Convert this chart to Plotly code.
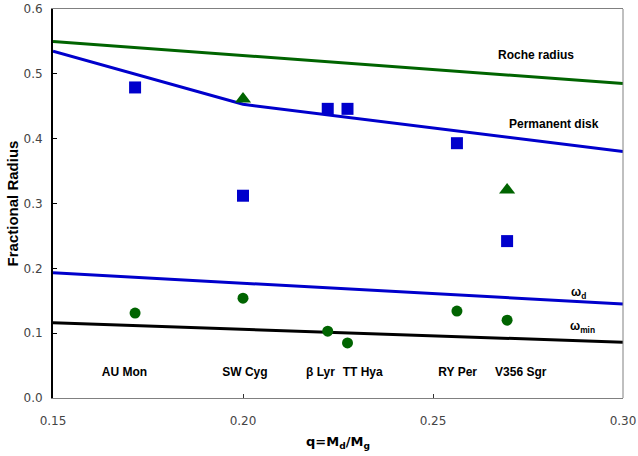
import plotly.graph_objects as go

# ---- data ----
roche_q = [0.15, 0.30]
roche_r = [0.550, 0.485]

disk_q = [0.15, 0.20, 0.30]
disk_r = [0.535, 0.453, 0.380]

omega_d_q = [0.15, 0.30]
omega_d_r = [0.193, 0.145]

omega_min_q = [0.15, 0.30]
omega_min_r = [0.116, 0.086]

stars = ["AU Mon", "SW Cyg", "β Lyr", "TT Hya", "RY Per", "V356 Sgr"]
star_q = [0.1716, 0.200, 0.2223, 0.2275, 0.2563, 0.2695]

square_r = [0.479, 0.312, 0.446, 0.446, 0.393, 0.242]
circle_r = [0.131, 0.154, 0.103, 0.085, 0.134, 0.120]

tri_q = [0.200, 0.2695]
tri_r = [0.461, 0.321]

# star-name label anchors (q position of each name, and its y level)
label_q = [0.1688, 0.2005, 0.2204, 0.2315, 0.2565, 0.2731]
label_y = 0.039

GREEN = "#006400"
BLUE = "#0000CC"

fig = go.Figure()

fig.add_trace(go.Scatter(x=roche_q, y=roche_r, mode="lines",
                         line=dict(color=GREEN, width=3), showlegend=False))
fig.add_trace(go.Scatter(x=disk_q, y=disk_r, mode="lines",
                         line=dict(color=BLUE, width=3), showlegend=False))
fig.add_trace(go.Scatter(x=omega_d_q, y=omega_d_r, mode="lines",
                         line=dict(color=BLUE, width=3), showlegend=False))
fig.add_trace(go.Scatter(x=omega_min_q, y=omega_min_r, mode="lines",
                         line=dict(color="black", width=3), showlegend=False))

fig.add_trace(go.Scatter(x=star_q, y=square_r, mode="markers",
                         marker=dict(symbol="square", size=12, color=BLUE),
                         showlegend=False))
fig.add_trace(go.Scatter(x=star_q, y=circle_r, mode="markers",
                         marker=dict(symbol="circle", size=11, color=GREEN),
                         showlegend=False))
fig.add_trace(go.Scatter(x=tri_q, y=tri_r, mode="markers",
                         marker=dict(symbol="triangle-up", size=14, color=GREEN),
                         showlegend=False))

fig.add_trace(go.Scatter(x=label_q, y=[label_y] * len(stars), mode="text",
                         text=stars,
                         textfont=dict(family="Liberation Sans, Arial", size=12,
                                       color="black", weight="bold"),
                         showlegend=False))

def px2q(px):
    return 0.15 + (px - 53) / 3800.0

def py2r(py):
    return (398 - py) / 648.0

ann_font = dict(family="Liberation Sans, Arial", size=12, color="black", weight="bold")
annotations = [
    dict(x=px2q(536), y=py2r(55), text="Roche radius", xanchor="center"),
    dict(x=px2q(554), y=py2r(124), text="Permanent disk", xanchor="center"),
    dict(x=px2q(569), y=py2r(293), text="ω<sub>d</sub>", xanchor="left"),
    dict(x=px2q(568), y=py2r(327), text="ω<sub>min</sub>", xanchor="left"),
]
for a in annotations:
    a.update(xref="x", yref="y", showarrow=False, font=ann_font)

fig.update_layout(
    width=638, height=456,
    margin=dict(l=53, r=15, t=9, b=58),
    plot_bgcolor="white", paper_bgcolor="white",
    annotations=annotations,
    xaxis=dict(range=[0.15, 0.30], tickvals=[0.15, 0.20, 0.25, 0.30],
               ticktext=["0.15", "0.20", "0.25", "0.30"],
               automargin=False,
               showgrid=False, zeroline=False,
               showline=True, linecolor="#808080", linewidth=1, mirror=True,
               ticks="inside", ticklen=4, tickcolor="#333",
               ticklabelstandoff=12,
               tickfont=dict(family="DejaVu Sans", size=12, color="#444"),
               title=dict(text="q=M<sub>d</sub>/M<sub>g</sub>",
                          font=dict(family="DejaVu Sans", size=13, color="black",
                                    weight="bold"),
                          standoff=9)),
    yaxis=dict(range=[0.0, 0.6], tickvals=[0.0, 0.1, 0.2, 0.3, 0.4, 0.5, 0.6],
               ticktext=["0.0", "0.1", "0.2", "0.3", "0.4", "0.5", "0.6"],
               automargin=False,
               showgrid=False, zeroline=False,
               showline=True, linecolor="black", linewidth=2,
               ticks="inside", ticklen=4, tickcolor="black",
               ticklabelstandoff=6,
               tickfont=dict(family="DejaVu Sans", size=12, color="#444"),
               title=dict(text="Fractional Radius",
                          font=dict(family="Liberation Sans, Arial", size=15,
                                    color="black", weight="bold"),
                          standoff=1)),
)

fig.add_shape(type="line", xref="x domain", yref="y domain",
              x0=1, x1=1, y0=0, y1=1, line=dict(color="#808080", width=1))

fig.write_html("out.html")
